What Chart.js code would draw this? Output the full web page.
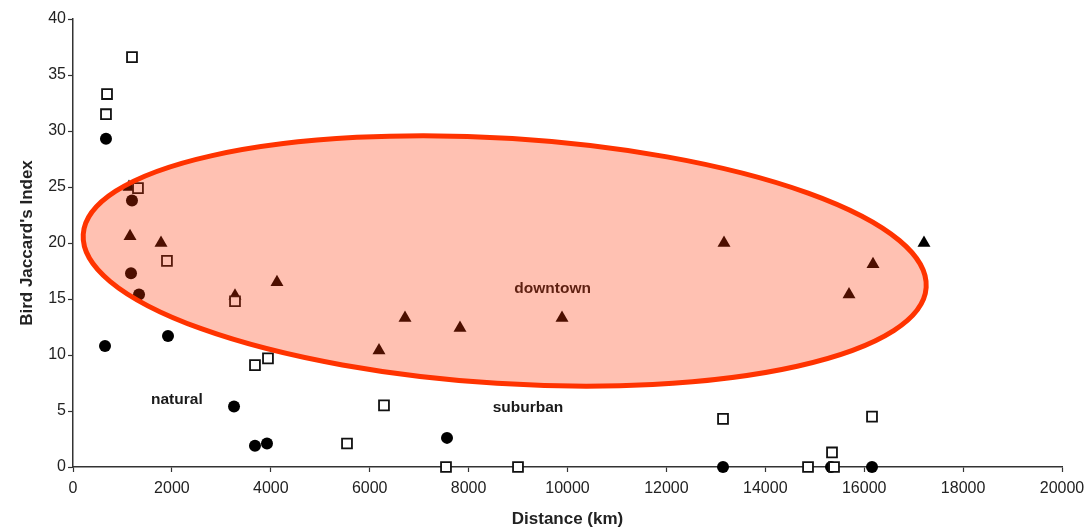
<!DOCTYPE html>
<html>
<head>
<meta charset="utf-8">
<script src="https://cdn.jsdelivr.net/npm/chart.js@4/dist/chart.umd.min.js"></script>
<style>
  html, body { margin: 0; padding: 0; background: #fff; }
  #wrap { width: 1092px; height: 531px; }
</style>
</head>
<body>
<div id="wrap"><canvas id="c" width="1092" height="531"></canvas></div>
<script>
// Distance (km) and Bird Jaccard's Index for each site pair
const naturalX  = [667, 647, 1921, 3256, 3680, 3923, 7563, 13145, 15329, 16158, 1193, 1173, 1335];
const naturalY  = [29.3, 10.8, 11.7, 5.4, 1.9, 2.1, 2.6, 0, 0, 0, 23.8, 17.3, 15.4];

const suburbanX = [688, 667, 1193, 1314, 1900, 3276, 3680, 3943, 6289, 5541, 7543, 8999, 13145, 14864, 15349, 15390, 16158];
const suburbanY = [33.3, 31.5, 36.6, 24.9, 18.4, 14.8, 9.1, 9.7, 5.5, 2.1, 0, 0, 4.3, 0, 1.3, 0, 4.5];

const downtownX = [1132, 1153, 1780, 3276, 4125, 6188, 6714, 7826, 9889, 13165, 15693, 16178, 17209];
const downtownY = [25.0, 20.6, 20.0, 15.3, 16.5, 10.4, 13.3, 12.4, 13.3, 20.0, 15.4, 18.1, 20.0];

const xTicks = [0, 2000, 4000, 6000, 8000, 10000, 12000, 14000, 16000, 18000, 20000];
const yTicks = [0, 5, 10, 15, 20, 25, 30, 35, 40];

// Group labels placed in data units
const groupLabels = [
  { text: 'natural',  x: 2100,  y: 6.0,  color: '#1a1a1a' },
  { text: 'suburban', x: 9200,  y: 5.3,  color: '#1a1a1a' },
  { text: 'downtown', x: 9700,  y: 15.9, color: '#1a1a1a' }
];

// Highlight ellipse around the downtown cluster (data units, tilt in degrees)
const ellipseCenter = { x: 8730, y: 18.4 };
const ellipseRadius = { x: 8540, y: 10.95 };
const ellipseTilt = 3.6;

const toPts = (xs, ys) => xs.map((x, i) => ({ x: x, y: ys[i] }));

const overlayPlugin = {
  id: 'overlay',
  afterDatasetsDraw(chart) {
    const { ctx, scales: { x, y } } = chart;
    ctx.save();
    ctx.font = 'bold 15.5px "Liberation Sans", Arial, sans-serif';
    ctx.textAlign = 'center';
    ctx.textBaseline = 'middle';
    groupLabels.forEach(l => {
      ctx.fillStyle = l.color;
      ctx.fillText(l.text, x.getPixelForValue(l.x), y.getPixelForValue(l.y));
    });
    const cx = x.getPixelForValue(ellipseCenter.x);
    const cy = y.getPixelForValue(ellipseCenter.y);
    const rx = x.getPixelForValue(ellipseCenter.x + ellipseRadius.x) - cx;
    const ry = cy - y.getPixelForValue(ellipseCenter.y + ellipseRadius.y);
    ctx.beginPath();
    ctx.ellipse(cx, cy, rx, ry, ellipseTilt * Math.PI / 180, 0, Math.PI * 2);
    ctx.fillStyle = 'rgba(255, 51, 0, 0.30)';
    ctx.fill();
    ctx.lineWidth = 5;
    ctx.strokeStyle = '#ff3300';
    ctx.stroke();
    ctx.restore();
  }
};

const font = { family: '"Liberation Sans", Arial, sans-serif', size: 16 };
const axisGrid = { display: true, drawOnChartArea: false, drawTicks: true, tickLength: 5, tickColor: '#333', tickWidth: 1.2, color: '#333' };

new Chart(document.getElementById('c'), {
  type: 'scatter',
  data: {
    datasets: [
      {
        label: 'suburban',
        data: toPts(suburbanX, suburbanY),
        pointStyle: 'rect',
        pointRadius: 7,
        backgroundColor: '#ffffff',
        borderColor: '#111111',
        borderWidth: 1.8
      },
      {
        label: 'natural',
        data: toPts(naturalX, naturalY),
        pointStyle: 'circle',
        pointRadius: 6,
        backgroundColor: '#000000',
        borderColor: '#000000',
        borderWidth: 0
      },
      {
        label: 'downtown',
        data: toPts(downtownX, downtownY),
        pointStyle: 'triangle',
        pointRadius: 7.5,
        backgroundColor: '#000000',
        borderColor: '#000000',
        borderWidth: 0
      }
    ]
  },
  options: {
    responsive: false,
    animation: false,
    events: [],
    layout: { padding: { top: 19, right: 30, left: 0, bottom: 0 } },
    plugins: { legend: { display: false }, tooltip: { enabled: false } },
    elements: { point: { hoverRadius: 0 } },
    datasets: { scatter: { clip: false } },
    scales: {
      x: {
        type: 'linear',
        min: 0, max: 20000,
        afterBuildTicks: s => { s.ticks = xTicks.map(v => ({ value: v })); },
        afterFit: s => { s.height = 64; },
        grid: axisGrid,
        border: { display: true, color: '#333', width: 1.5 },
        ticks: { font: font, color: '#222', padding: 7, maxRotation: 0, autoSkip: false, callback: v => String(v) },
        title: {
          display: true, text: 'Distance (km)', color: '#222',
          font: { family: font.family, size: 17, weight: 'bold', lineHeight: 1.4 },
          padding: { top: 0, bottom: 0 }
        }
      },
      y: {
        type: 'linear',
        min: 0, max: 40,
        afterBuildTicks: s => { s.ticks = yTicks.map(v => ({ value: v })); },
        afterFit: s => { s.width = 73; },
        grid: axisGrid,
        border: { display: true, color: '#333', width: 1.5 },
        ticks: { font: font, color: '#222', padding: 2, autoSkip: false, callback: v => String(v) },
        title: {
          display: true, text: "Bird Jaccard's Index", color: '#222',
          font: { family: font.family, size: 17, weight: 'bold' },
          padding: { top: 17, bottom: 0 }
        }
      }
    }
  },
  plugins: [overlayPlugin]
});
</script>
</body>
</html>
